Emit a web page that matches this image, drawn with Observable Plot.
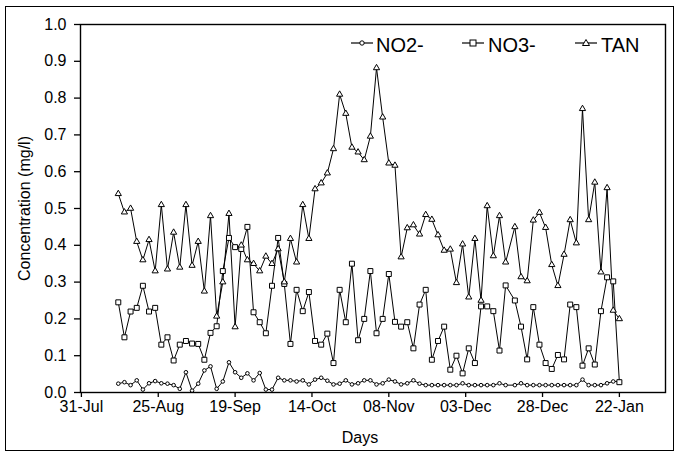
<!DOCTYPE html>
<html><head><meta charset="utf-8">
<script src="https://cdn.jsdelivr.net/npm/d3@7"></script>
<script src="https://cdn.jsdelivr.net/npm/@observablehq/plot@0.6"></script>
<style>
body{margin:0;background:#fff;}
#wrap{position:relative;width:677px;height:455px;font-family:"Liberation Sans",Arial,sans-serif;color:#000;overflow:hidden}
#chart{position:absolute;left:0;top:0}
#border{position:absolute;left:5px;top:6px;width:667px;height:443px;border:1.5px solid #000;pointer-events:none}
.sw{position:absolute;width:24px;height:14px;overflow:visible}
.lt{position:absolute;font-size:20px;line-height:1;white-space:nowrap}
#xlabel{position:absolute;left:310px;width:100px;top:430px;text-align:center;font-size:16px;line-height:1}
</style></head>
<body><div id="wrap"><div id="chart"></div><div id="border"></div><div id="legend"></div><div id="xlabel"></div></div>
<script>
// sampling dates
const sampleDates = [
"2008-08-12","2008-08-14","2008-08-16","2008-08-18","2008-08-20","2008-08-22","2008-08-24","2008-08-26","2008-08-28","2008-08-30",
"2008-09-01","2008-09-03","2008-09-05","2008-09-07","2008-09-09","2008-09-11","2008-09-13","2008-09-15","2008-09-17","2008-09-19","2008-09-21","2008-09-23","2008-09-25","2008-09-27","2008-09-29",
"2008-10-01","2008-10-03","2008-10-05","2008-10-07","2008-10-09","2008-10-11","2008-10-13","2008-10-15","2008-10-17","2008-10-19","2008-10-21","2008-10-23","2008-10-25","2008-10-27","2008-10-29","2008-10-31",
"2008-11-02","2008-11-04","2008-11-06","2008-11-08","2008-11-10","2008-11-12","2008-11-14","2008-11-16","2008-11-18","2008-11-20","2008-11-22","2008-11-24","2008-11-26","2008-11-28","2008-11-30",
"2008-12-02","2008-12-04","2008-12-06","2008-12-08","2008-12-10","2008-12-12","2008-12-14","2008-12-16","2008-12-19","2008-12-21","2008-12-23","2008-12-25","2008-12-27","2008-12-29","2008-12-31",
"2009-01-02","2009-01-04","2009-01-06","2009-01-08","2009-01-10","2009-01-12","2009-01-14","2009-01-16","2009-01-18","2009-01-20","2009-01-22"
];
const no2 = [
0.024,0.028,0.020,0.033,0.008,0.025,0.031,0.025,0.024,0.020,
0.010,0.055,0.005,0.024,0.060,0.071,0.010,0.030,0.082,0.055,
0.040,0.052,0.033,0.053,0.008,0.008,0.040,0.033,0.033,0.030,
0.033,0.022,0.035,0.040,0.032,0.022,0.024,0.033,0.022,0.025,
0.033,0.033,0.022,0.025,0.035,0.030,0.022,0.025,0.033,0.024,
0.020,0.020,0.020,0.020,0.020,0.020,0.025,0.020,0.020,0.020,
0.020,0.020,0.025,0.020,0.020,0.025,0.020,0.020,0.020,0.020,
0.020,0.020,0.020,0.020,0.020,0.035,0.020,0.020,0.020,0.025,
0.030,0.030
];
const no3 = [
0.245,0.150,0.220,0.230,0.290,0.220,0.230,0.130,0.150,0.087,
0.130,0.140,0.133,0.132,0.089,0.162,0.180,0.330,0.420,0.395,
0.390,0.450,0.218,0.191,0.161,0.290,0.420,0.295,0.132,0.279,
0.221,0.273,0.140,0.130,0.160,0.080,0.279,0.191,0.350,0.142,
0.200,0.330,0.161,0.200,0.322,0.192,0.179,0.191,0.120,0.239,
0.279,0.089,0.140,0.179,0.062,0.100,0.052,0.120,0.080,0.234,
0.234,0.221,0.114,0.291,0.250,0.179,0.090,0.232,0.130,0.080,
0.064,0.102,0.090,0.239,0.232,0.073,0.120,0.076,0.221,0.313,
0.302,0.028
];
const tan = [
0.540,0.490,0.500,0.410,0.360,0.415,0.330,0.510,0.335,0.435,
0.340,0.510,0.345,0.410,0.275,0.480,0.207,0.300,0.486,0.178,
0.400,0.360,0.350,0.330,0.370,0.350,0.390,0.300,0.418,0.354,
0.510,0.418,0.553,0.569,0.596,0.662,0.810,0.758,0.666,0.653,
0.632,0.696,0.882,0.748,0.623,0.617,0.368,0.447,0.455,0.430,
0.483,0.470,0.428,0.386,0.389,0.298,0.403,0.259,0.418,0.250,
0.507,0.371,0.480,0.354,0.450,0.314,0.303,0.468,0.489,0.448,
0.347,0.290,0.375,0.469,0.406,0.771,0.469,0.571,0.327,0.556,
0.223,0.200
];
const xTickDates = ["2008-07-31","2008-08-25","2008-09-19","2008-10-14","2008-11-08","2008-12-03","2008-12-28","2009-01-22"];
const yTicks = [0,0.1,0.2,0.3,0.4,0.5,0.6,0.7,0.8,0.9,1.0];
const seriesNames = ["NO2-","NO3-","TAN"];
const seriesSymbols = ["circle","square","triangle"];
const seriesR = [1.8,2.8,2.3];
const xTitle = "Days";
const yTitle = "Concentration (mg/l)";

const parse = d3.utcParse("%Y-%m-%d");
const rows = sampleDates.map((d,i)=>({date: parse(d), NO2: no2[i], NO3: no3[i], TAN: tan[i]}));
const keys = ["NO2","NO3","TAN"];

const marks = [
  Plot.axisX(xTickDates.map(parse), {tickSize:5, tickPadding:3, strokeWidth:1.3, tickFormat:d3.utcFormat("%d-%b"), label:null, fontSize:16}),
  Plot.axisY(yTicks, {tickSize:6, tickPadding:8, strokeWidth:1.3, tickFormat:d3.format(".1f"), label:yTitle, labelAnchor:"center", labelArrow:"none", labelOffset:62, fontSize:16}),
];
keys.forEach(k => marks.push(Plot.lineY(rows, {x:"date", y:k, stroke:"#000", strokeWidth:1})));
keys.forEach((k,j) => marks.push(Plot.dot(rows, {x:"date", y:k, symbol:seriesSymbols[j], r:seriesR[j], fill:"white", stroke:"#000", strokeWidth:1})));
marks.push(Plot.frame({stroke:"#000", strokeWidth:1.4}));

const plot = Plot.plot({
  width:677, height:455, marginLeft:80, marginRight:12, marginTop:24, marginBottom:63,
  style:{fontFamily:"'Liberation Sans', Arial, sans-serif", fontSize:"16px", color:"#000", background:"transparent", overflow:"visible"},
  x:{type:"utc", domain:[new Date(Date.UTC(2008,6,30,17)), new Date(Date.UTC(2009,1,6))]},
  y:{domain:[0,1]},
  marks
});
document.getElementById("chart").appendChild(plot);
document.getElementById("xlabel").textContent = xTitle;

// legend
const legend = document.getElementById("legend");
const swX = [351, 462, 575];
const txX = [376, 488, 601];
const shapes = {
  circle: '<circle cx="11" cy="7" r="2.2" fill="white" stroke="black"/>',
  square: '<rect x="8" y="4" width="6" height="6" fill="white" stroke="black"/>',
  triangle: '<path d="M11,3.5 L14.5,9.5 L7.5,9.5 Z" fill="white" stroke="black"/>'
};
seriesNames.forEach((name,j) => {
  const sw = document.createElement("div");
  sw.className = "sw"; sw.style.left = swX[j]+"px"; sw.style.top = "36px";
  sw.innerHTML = '<svg width="24" height="14"><line x1="0" y1="7" x2="22" y2="7" stroke="black" stroke-width="1.2"/>' + shapes[seriesSymbols[j]] + '</svg>';
  legend.appendChild(sw);
  const t = document.createElement("div");
  t.className = "lt"; t.style.left = txX[j]+"px"; t.style.top = "35px"; t.textContent = name;
  legend.appendChild(t);
});
</script>
</body></html>
